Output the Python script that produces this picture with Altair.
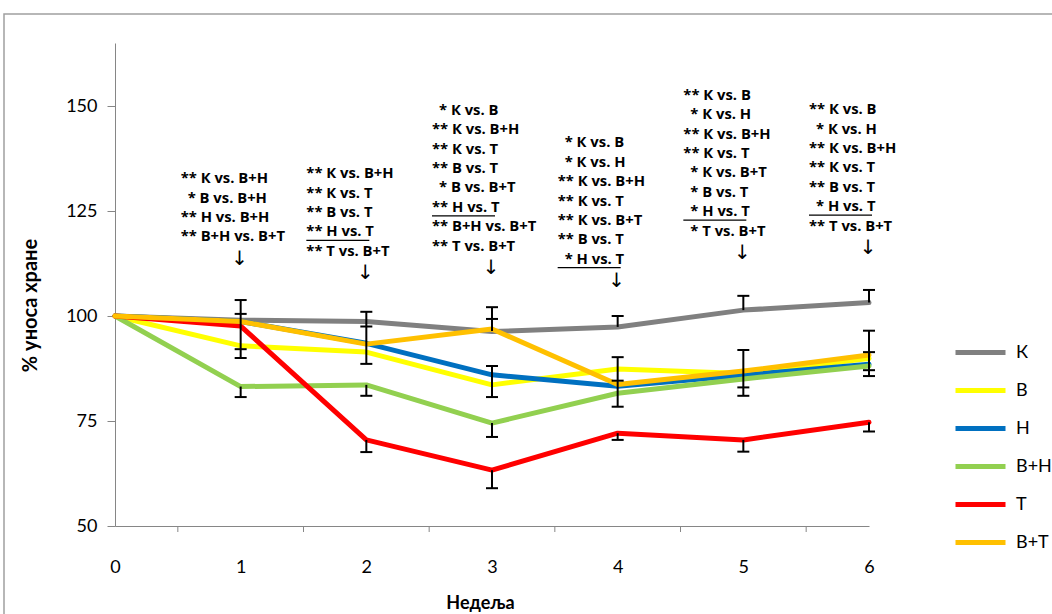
import altair as alt
import pandas as pd

# ---------------- data ----------------
weeks = [0, 1, 2, 3, 4, 5, 6]
series_names = ["К", "В", "Н", "В+Н", "Т", "В+Т"]
series_colors = ["#808080", "#FFFF00", "#0070C0", "#92D050", "#FF0000", "#FFC000"]

k_vals = [100, 99.0, 98.7, 96.3, 97.4, 101.4, 103.2]
v_vals = [100, 92.9, 91.4, 83.6, 87.4, 86.3, 89.9]
h_vals = [100, 98.7, 93.5, 86.0, 83.3, 85.9, 88.5]
vh_vals = [100, 83.2, 83.6, 74.5, 81.6, 85.0, 88.1]
t_vals = [100, 97.6, 70.5, 63.3, 72.1, 70.5, 74.7]
vt_vals = [100, 98.7, 93.3, 96.9, 83.7, 86.9, 90.7]
all_vals = [k_vals, v_vals, h_vals, vh_vals, t_vals, vt_vals]

# error bars: vertical segments and their caps
err_weeks = [1, 1, 2, 2, 2, 3, 3, 3, 3, 4, 4, 4, 5, 5, 5, 6, 6, 6]
err_lo = [90.0, 80.7, 88.6, 81.0, 67.6, 96.4, 80.7, 71.2, 59.0, 97.4, 78.4, 70.5, 101.4, 81.0, 67.7, 103.2, 85.7, 72.5]
err_hi = [103.8, 83.2, 101.0, 83.6, 70.5, 102.1, 88.1, 74.5, 63.3, 100.0, 90.2, 72.1, 104.8, 91.9, 70.5, 106.2, 96.5, 74.7]
cap_weeks = [1, 1, 1, 1, 1, 2, 2, 2, 2, 3, 3, 3, 3, 3, 3, 4, 4, 4, 4, 5, 5, 5, 5, 6, 6, 6, 6, 6, 6]
cap_vals = [103.8, 100.5, 92.1, 90.0, 80.7, 101.0, 97.5, 88.6, 81.0, 102.1, 99.3, 88.1, 80.7, 71.2, 59.0,
            100.0, 90.2, 84.6, 78.4, 104.8, 91.9, 83.0, 81.0, 106.2, 96.5, 91.4, 87.1, 85.7, 72.5]
cap_weeks += [2, 4, 5]
cap_vals += [67.6, 70.5, 67.7]

minor_ticks = [0.5, 1.5, 2.5, 3.5, 4.5, 5.5]

ann_weeks = [1, 2, 3, 4, 5, 6]
ann_lines = [
    ["** К vs. В+Н", "* В vs. В+Н", "** Н vs. В+Н", "** В+Н vs. В+Т"],
    ["** К vs. В+Н", "** К vs. Т", "** В vs. Т", "** Н vs. Т", "** Т vs. В+Т"],
    ["* К vs. В", "** К vs. В+Н", "** К vs. Т", "** В vs. Т", "* В vs. В+Т",
     "** Н vs. Т", "** В+Н vs. В+Т", "** Т vs. В+Т"],
    ["* К vs. В", "* К vs. Н", "** К vs. В+Н", "** К vs. Т", "** К vs. В+Т",
     "** В vs. Т", "* Н vs. Т"],
    ["** К vs. В", "* К vs. Н", "** К vs. В+Н", "** К vs. Т", "* К vs. В+Т",
     "* В vs. Т", "* Н vs. Т", "* Т vs. В+Т"],
    ["** К vs. В", "* К vs. Н", "** К vs. В+Н", "** К vs. Т", "** В vs. Т",
     "* Н vs. Т", "** Т vs. В+Т"],
]
ann_underlined = [-1, 3, 5, 6, 6, 5]
ann_anchor = [113.6, 110.2, 111.4, 108.3, 115.0, 116.2]
LINE_STEP = 4.62   # one text line in y units
FIRST_GAP = 5.1

# ---------------- tables ----------------
rows = []
for name, vals in zip(series_names, all_vals):
    for w, v in zip(weeks, vals):
        rows.append({"series": name, "week": w, "value": v})
df = pd.DataFrame(rows)

df_err = pd.DataFrame({"week": err_weeks, "lo": err_lo, "hi": err_hi})
df_cap = pd.DataFrame({"week": cap_weeks, "value": cap_vals})
df_minor = pd.DataFrame({"week": minor_ticks})

ann_rows, ul_rows, arrow_rows = [], [], []
for w, lines, ul, anc in zip(ann_weeks, ann_lines, ann_underlined, ann_anchor):
    n = len(lines)
    for i, txt in enumerate(lines):
        j = n - 1 - i
        yv = anc + FIRST_GAP + j * LINE_STEP
        ann_rows.append({"week": w, "y": yv, "text": txt,
                         "single": 0 if txt.startswith("**") else 1})
        if i == ul:
            ul_rows.append({"week": w, "y": yv})
    arrow_rows.append({"week": w, "y": anc, "text": "↓"})
df_ann = pd.DataFrame(ann_rows)
df_ul = pd.DataFrame(ul_rows)
df_arrow = pd.DataFrame(arrow_rows)

# ---------------- chart ----------------
W, H = 754, 483
xs = alt.Scale(domain=[0, 6], nice=False, zero=False)
ys = alt.Scale(domain=[50, 165], nice=False, zero=False)

x_axis = alt.Axis(values=weeks, format="d", ticks=False, grid=False, labelPadding=32, labelFontSize=18,
                  labelFlush=False, labelColor="#000000", domainColor="#868686", domainWidth=1,
                  title="Недеља", titleFontSize=18, titleFontWeight="bold", titleColor="#000000",
                  titlePadding=18, titleX=365, titleAnchor="start", titleAlign="center")
y_axis = alt.Axis(values=[50, 75, 100, 125, 150], grid=False, tickSize=8, tickColor="#868686",
                  domainColor="#868686", labelFontSize=18, labelColor="#000000", labelPadding=10,
                  labelFlush=False,
                  title="% уноса хране", titleFontSize=20, titleFontWeight="bold",
                  titleColor="#000000", titleX=-85, titleY=262, titleAngle=270,
                  titleAlign="center", titleBaseline="middle")

border = alt.Chart(pd.DataFrame({"a": [0]})).mark_rect(
    fillOpacity=0, stroke="#a0a0a0", strokeWidth=1.5
).encode(x=alt.value(-111), x2=alt.value(980), y=alt.value(-29), y2=alt.value(620))

lines = alt.Chart(df).mark_line(strokeWidth=5, strokeCap="round", strokeJoin="round").encode(
    x=alt.X("week:Q", scale=xs, axis=x_axis),
    y=alt.Y("value:Q", scale=ys, axis=y_axis),
    color=alt.Color("series:N", sort=series_names,
                    scale=alt.Scale(domain=series_names, range=series_colors),
                    legend=alt.Legend(title=None, orient="none", legendX=838, legendY=282,
                                      symbolType="stroke", symbolStrokeWidth=5, symbolSize=2500,
                                      labelFontSize=18, labelColor="#000000", rowPadding=-8,
                                      labelOffset=8, padding=0)),
)

minor = alt.Chart(df_minor).mark_rule(color="#868686", strokeWidth=1).encode(
    x=alt.X("week:Q", scale=xs), y=alt.value(H), y2=alt.value(H + 6))

err = alt.Chart(df_err).mark_rule(color="#000000", strokeWidth=2).encode(
    x=alt.X("week:Q", scale=xs), y=alt.Y("lo:Q", scale=ys), y2="hi:Q")
caps = alt.Chart(df_cap).mark_rule(color="#000000", strokeWidth=2, xOffset=-6, x2Offset=6).encode(
    x=alt.X("week:Q", scale=xs), x2="week:Q", y=alt.Y("value:Q", scale=ys))

ann_base = alt.Chart(df_ann).encode(
    x=alt.X("week:Q", scale=xs), y=alt.Y("y:Q", scale=ys), text="text:N")
ann_style = dict(align="left", baseline="middle", fontSize=14.8, fontWeight="bold",
                 color="#000000", font="Open Sans")
ann_double = ann_base.transform_filter("datum.single == 0").mark_text(dx=-60, **ann_style)
ann_single = ann_base.transform_filter("datum.single == 1").mark_text(dx=-53, **ann_style)

ul = alt.Chart(df_ul).mark_rule(color="#000000", strokeWidth=1.2, xOffset=-60, x2Offset=3,
                                yOffset=8).encode(
    x=alt.X("week:Q", scale=xs), x2="week:Q", y=alt.Y("y:Q", scale=ys))
arrows = alt.Chart(df_arrow).mark_text(align="center", baseline="middle", fontSize=20,
                                       color="#000000", font="DejaVu Sans", dx=-1).encode(
    x=alt.X("week:Q", scale=xs), y=alt.Y("y:Q", scale=ys), text="text:N")

chart = alt.layer(border, minor, lines, err, caps, ann_double, ann_single, ul, arrows).properties(
    width=W, height=H,
    padding={"left": 115, "top": 43, "right": 183, "bottom": 88},
    autosize=alt.AutoSizeParams(type="none"),
).configure(font="Lato").configure_view(stroke=None)

chart.save("out.html", embed_options={"renderer": "svg", "actions": False})
